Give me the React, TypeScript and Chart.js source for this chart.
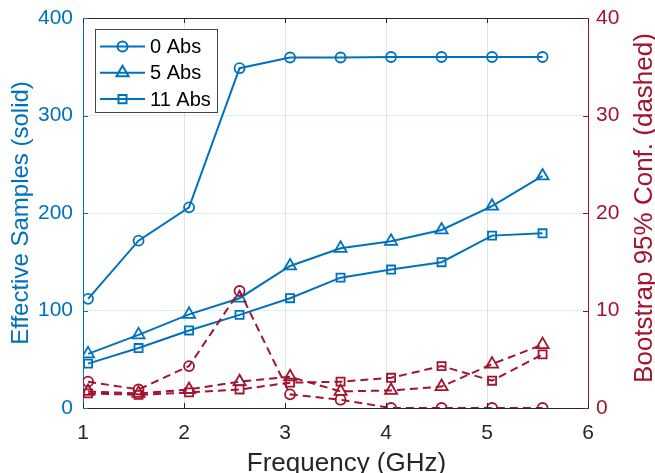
import React, { useEffect, useRef } from 'react';
import { Chart, registerables } from 'chart.js';
import { drawPoint } from 'chart.js/helpers';

Chart.register(...registerables);

const FONT = '"Liberation Sans", Arial, Helvetica, sans-serif';
const BLUE = '#0072BD';
const RED = '#A2142F';
const AXIS = '#262626';

// Frequencies (GHz) of each measurement
const frequencies = [1.05, 1.55, 2.05, 2.55, 3.05, 3.55, 4.05, 4.55, 5.05, 5.55];

const seriesNames = ['0 Abs', '5 Abs', '11 Abs'];
const markerStyles = ['circle', 'triangle', 'rect'];
const markerRadii = [5, 7, 5.7];

// Effective samples (left axis, solid lines)
const samples0Abs = [112, 171.6, 205.8, 348.5, 359.5, 359.5, 360, 360, 360, 360];
const samples5Abs = [55.5, 75, 96, 112.6, 145.7, 163.8, 171, 182.6, 207, 238];
const samples11Abs = [45.5, 61.5, 79.5, 95.5, 112.6, 133.7, 142, 149.5, 176.8, 179.2];

// Bootstrap 95% confidence width (right axis, dashed lines)
const conf0Abs = [2.7, 1.9, 4.3, 12.0, 1.4, 0.85, 0, 0, 0, 0];
const conf5Abs = [1.7, 1.5, 1.9, 2.7, 3.2, 1.7, 1.8, 2.2, 4.5, 6.5];
const conf11Abs = [1.5, 1.35, 1.6, 1.9, 2.6, 2.7, 3.1, 4.3, 2.8, 5.5];

// Axis ticks
const xTicks = [1, 2, 3, 4, 5, 6];
const leftTicks = [0, 100, 200, 300, 400];
const rightTicks = [0, 10, 20, 30, 40];

const xTitle = 'Frequency (GHz)';
const leftTitle = 'Effective Samples (solid)';
const rightTitle = 'Bootstrap 95% Conf. (dashed)';

const samplesSeries = [samples0Abs, samples5Abs, samples11Abs];
const confSeries = [conf0Abs, conf5Abs, conf11Abs];

const toPoints = (values: number[]) => values.map((y, i) => ({ x: frequencies[i], y }));

const fitVertical = (width: number) => (s: any) => {
  s.width = width;
  s.paddingTop = 0;
  s.paddingBottom = 0;
};

const framePlugin = {
  id: 'frame',
  afterDraw(chart: any) {
    const { ctx, chartArea } = chart;
    const { left, right, top, bottom } = chartArea;
    const xs = chart.scales.x;
    const yl = chart.scales.yL;
    const yr = chart.scales.yR;
    const tick = 5;
    ctx.save();

    // top border of the box
    ctx.lineWidth = 1;
    ctx.strokeStyle = AXIS;
    ctx.beginPath();
    ctx.moveTo(left, Math.round(top) + 0.5);
    ctx.lineTo(right, Math.round(top) + 0.5);
    ctx.stroke();

    // inward tick marks
    ctx.beginPath();
    xTicks.forEach((v) => {
      const px = Math.round(xs.getPixelForValue(v)) + 0.5;
      ctx.moveTo(px, bottom);
      ctx.lineTo(px, bottom - tick);
      ctx.moveTo(px, top);
      ctx.lineTo(px, top + tick);
    });
    ctx.stroke();

    ctx.strokeStyle = BLUE;
    ctx.beginPath();
    leftTicks.forEach((v) => {
      const py = Math.round(yl.getPixelForValue(v)) + 0.5;
      ctx.moveTo(left, py);
      ctx.lineTo(left + tick, py);
    });
    ctx.stroke();

    ctx.strokeStyle = RED;
    ctx.beginPath();
    rightTicks.forEach((v) => {
      const py = Math.round(yr.getPixelForValue(v)) + 0.5;
      ctx.moveTo(right, py);
      ctx.lineTo(right - tick, py);
    });
    ctx.stroke();

    // legend
    const lx = left + 12;
    const ly = top + 11;
    const lw = 122;
    const lh = 83;
    ctx.fillStyle = '#ffffff';
    ctx.fillRect(lx, ly, lw, lh);
    ctx.strokeStyle = 'rgba(38,38,38,0.85)';
    ctx.lineWidth = 1;
    ctx.strokeRect(Math.round(lx) + 0.5, Math.round(ly) + 0.5, lw, lh);
    seriesNames.forEach((name, i) => {
      const cy = ly + 17.5 + i * 26.3;
      ctx.strokeStyle = BLUE;
      ctx.lineWidth = 2;
      ctx.beginPath();
      ctx.moveTo(lx + 5, cy);
      ctx.lineTo(lx + 50, cy);
      ctx.stroke();
      ctx.fillStyle = 'rgba(0,0,0,0)';
      drawPoint(ctx, { pointStyle: markerStyles[i], radius: markerRadii[i], borderWidth: 1.8, rotation: 0 } as any, lx + 27.5, cy);
      ctx.fillStyle = '#000000';
      ctx.font = `20px ${FONT}`;
      ctx.textAlign = 'left';
      ctx.textBaseline = 'middle';
      ctx.fillText(name, lx + 55, cy + 1);
    });

    // axis titles
    ctx.textBaseline = 'alphabetic';
    ctx.textAlign = 'center';
    ctx.fillStyle = AXIS;
    ctx.font = `26px ${FONT}`;
    ctx.fillText(xTitle, (left + right) / 2 + 11, 471);

    ctx.save();
    ctx.translate(28, (top + bottom) / 2);
    ctx.rotate(-Math.PI / 2);
    ctx.fillStyle = BLUE;
    ctx.font = `24px ${FONT}`;
    ctx.fillText(leftTitle, 0, 0);
    ctx.restore();

    ctx.save();
    ctx.translate(652, (top + bottom) / 2 - 5);
    ctx.rotate(-Math.PI / 2);
    ctx.fillStyle = RED;
    ctx.font = `26px ${FONT}`;
    ctx.fillText(rightTitle, 0, 0);
    ctx.restore();

    ctx.restore();
  },
};

export default function App() {
  const canvasRef = useRef<HTMLCanvasElement | null>(null);

  useEffect(() => {
    if (!canvasRef.current) return;
    const datasets: any[] = [];
    samplesSeries.forEach((values, i) => {
      datasets.push({
        label: seriesNames[i],
        data: toPoints(values),
        yAxisID: 'yL',
        borderColor: BLUE,
        backgroundColor: 'rgba(0,0,0,0)',
        borderWidth: 2,
        pointStyle: markerStyles[i],
        pointRadius: markerRadii[i],
        pointBorderWidth: 1.8,
        pointBorderColor: BLUE,
        pointBackgroundColor: 'rgba(0,0,0,0)',
        tension: 0,
        order: 1,
      });
    });
    confSeries.forEach((values, i) => {
      datasets.push({
        label: seriesNames[i] + ' conf',
        data: toPoints(values),
        yAxisID: 'yR',
        borderColor: RED,
        backgroundColor: 'rgba(0,0,0,0)',
        borderWidth: 2,
        borderDash: [8, 5],
        pointStyle: markerStyles[i],
        pointRadius: markerRadii[i],
        pointBorderWidth: 1.8,
        pointBorderColor: RED,
        pointBackgroundColor: 'rgba(0,0,0,0)',
        tension: 0,
        order: 0,
      });
    });

    const chart = new Chart(canvasRef.current, {
      type: 'line',
      data: { datasets },
      plugins: [framePlugin],
      options: {
        animation: false,
        responsive: false,
        events: [],
        layout: { padding: { top: 18, left: 0, right: 0, bottom: 0 }, autoPadding: false },
        plugins: { legend: { display: false }, tooltip: { enabled: false } },
        scales: {
          x: {
            type: 'linear',
            min: 1,
            max: 6,
            afterFit: (s: any) => { s.height = 65; s.paddingLeft = 0; s.paddingRight = 0; },
            afterBuildTicks: (s: any) => { s.ticks = xTicks.map((v) => ({ value: v })); },
            ticks: { color: AXIS, font: { family: FONT, size: 21 }, padding: 13, maxRotation: 0 },
            grid: { color: 'rgba(38,38,38,0.13)', drawTicks: false, lineWidth: 1 },
            border: { color: AXIS, width: 1 },
          },
          yL: {
            type: 'linear',
            position: 'left',
            min: 0,
            max: 400,
            afterFit: fitVertical(83),
            afterBuildTicks: (s: any) => { s.ticks = leftTicks.map((v) => ({ value: v })); },
            ticks: { color: BLUE, font: { family: FONT, size: 21 }, padding: 10 },
            grid: { color: 'rgba(0,114,189,0.13)', drawTicks: false, lineWidth: 1 },
            border: { color: BLUE, width: 1 },
          },
          yR: {
            type: 'linear',
            position: 'right',
            min: 0,
            max: 40,
            afterFit: fitVertical(67),
            afterBuildTicks: (s: any) => { s.ticks = rightTicks.map((v) => ({ value: v })); },
            ticks: { color: RED, font: { family: FONT, size: 21 }, padding: 8 },
            grid: { drawOnChartArea: false, drawTicks: false },
            border: { color: RED, width: 1 },
          },
        },
      } as any,
    });
    return () => chart.destroy();
  }, []);

  return (
    <div style={{ position: 'absolute', left: 0, top: 0, width: 655, height: 473, background: '#fff' }}>
      <canvas ref={canvasRef} width={655} height={473} style={{ display: 'block' }} />
    </div>
  );
}
